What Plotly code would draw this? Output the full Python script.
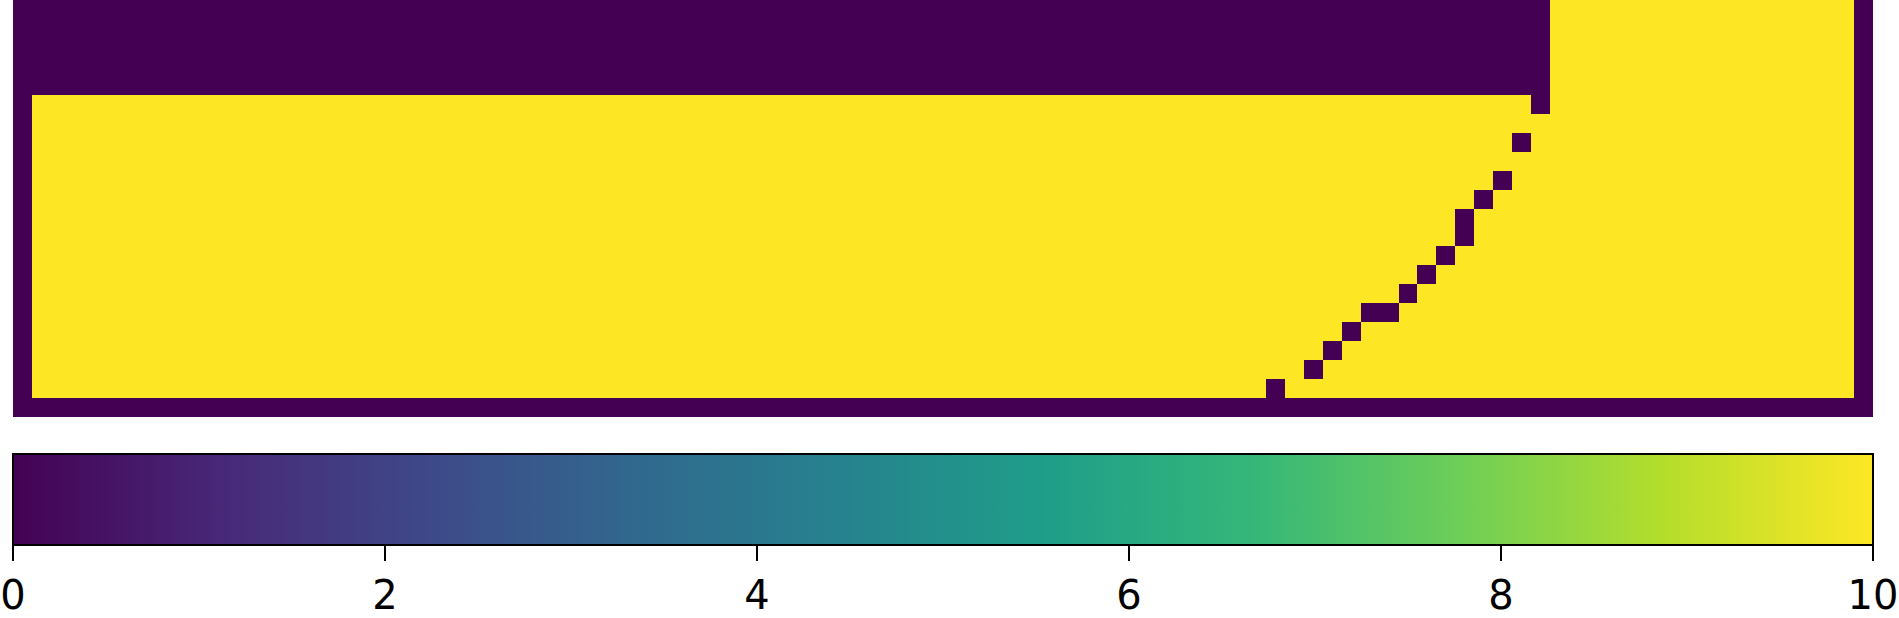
import plotly.graph_objects as go

# Each row of the grid as run-lengths of (value, number of cells), top row first
row_runs = [
    [(0, 81), (10, 16), (0, 1)],
    [(0, 81), (10, 16), (0, 1)],
    [(0, 81), (10, 16), (0, 1)],
    [(0, 81), (10, 16), (0, 1)],
    [(0, 81), (10, 16), (0, 1)],
    [(0, 1), (10, 79), (0, 1), (10, 16), (0, 1)],
    [(0, 1), (10, 96), (0, 1)],
    [(0, 1), (10, 78), (0, 1), (10, 17), (0, 1)],
    [(0, 1), (10, 96), (0, 1)],
    [(0, 1), (10, 77), (0, 1), (10, 18), (0, 1)],
    [(0, 1), (10, 76), (0, 1), (10, 19), (0, 1)],
    [(0, 1), (10, 75), (0, 1), (10, 20), (0, 1)],
    [(0, 1), (10, 75), (0, 1), (10, 20), (0, 1)],
    [(0, 1), (10, 74), (0, 1), (10, 21), (0, 1)],
    [(0, 1), (10, 73), (0, 1), (10, 22), (0, 1)],
    [(0, 1), (10, 72), (0, 1), (10, 23), (0, 1)],
    [(0, 1), (10, 70), (0, 2), (10, 24), (0, 1)],
    [(0, 1), (10, 69), (0, 1), (10, 26), (0, 1)],
    [(0, 1), (10, 68), (0, 1), (10, 27), (0, 1)],
    [(0, 1), (10, 67), (0, 1), (10, 28), (0, 1)],
    [(0, 1), (10, 65), (0, 1), (10, 30), (0, 1)],
    [(0, 98)],
]
colorbar_ticks = [0, 2, 4, 6, 8, 10]
z_min, z_max = 0, 10

z = []
for runs in row_runs:
    row = []
    for val, n in runs:
        row.extend([val] * n)
    z.append(row)

PLOT_H = 548  # plot-area height in px (618 - bottom margin)

fig = go.Figure(
    go.Heatmap(
        z=z,
        colorscale="Viridis",
        zmin=z_min,
        zmax=z_max,
        xgap=0,
        ygap=0,
        colorbar=dict(
            orientation="h",
            x=0.5,
            xanchor="center",
            y=1 - 454 / PLOT_H,
            yanchor="top",
            len=1,
            lenmode="fraction",
            thickness=91,
            xpad=0,
            ypad=0,
            outlinewidth=2,
            outlinecolor="black",
            ticks="outside",
            ticklen=15,
            tickwidth=2,
            tickcolor="black",
            tickvals=colorbar_ticks,
            ticktext=[str(t) for t in colorbar_ticks],
            tickfont=dict(family="DejaVu Sans", size=40, color="black"),
        ),
    )
)

fig.update_layout(
    width=1899,
    height=618,
    margin=dict(l=13, r=26, t=0, b=618 - PLOT_H, autoexpand=False),
    paper_bgcolor="white",
    plot_bgcolor="white",
    xaxis=dict(visible=False, range=[-0.5, 97.5]),
    yaxis=dict(visible=False, autorange="reversed", domain=[1 - 417 / PLOT_H, 1]),
)

fig.write_html(
    "out.html",
    config={"displayModeBar": False},
    post_script="document.body.style.margin='0';document.body.style.padding='0';",
)
